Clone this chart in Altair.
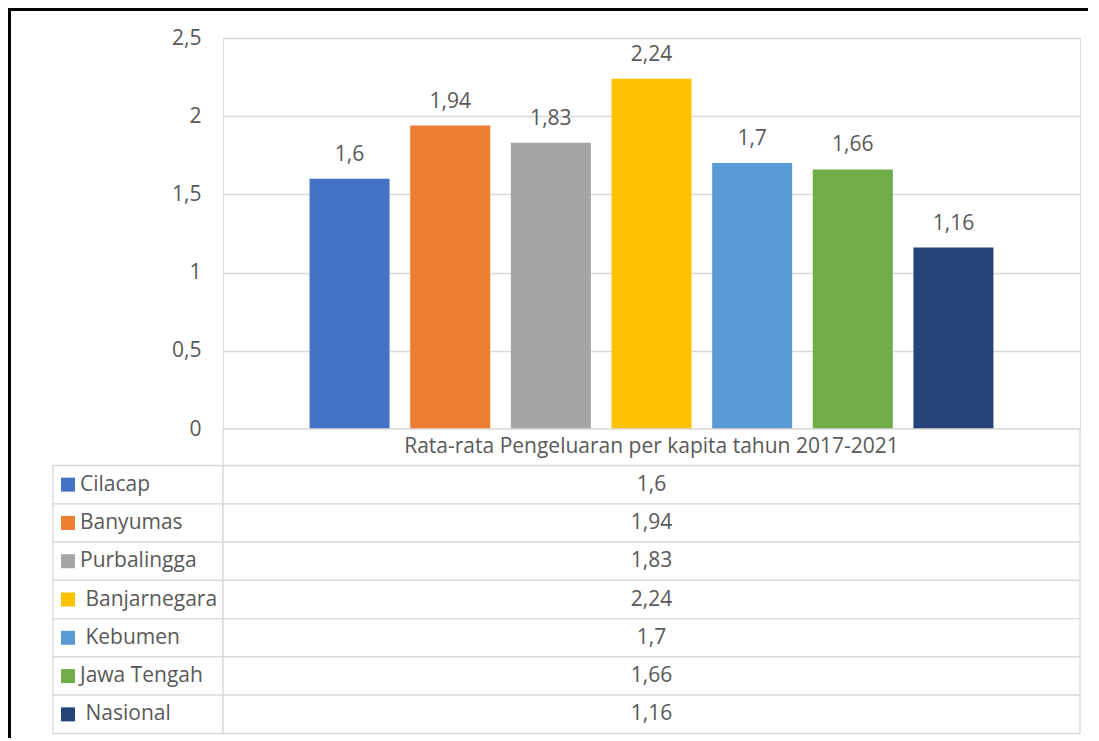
import altair as alt
import pandas as pd

# ---- data ----
names = ["Cilacap", "Banyumas", "Purbalingga", "Banjarnegara", "Kebumen", "Jawa Tengah", "Nasional"]
row_labels = ["Cilacap", "Banyumas", "Purbalingga", "\u200b\u00a0Banjarnegara", "\u200b\u00a0Kebumen", "Jawa Tengah", "\u200b\u00a0Nasional"]
values = [1.6, 1.94, 1.83, 2.24, 1.7, 1.66, 1.16]
colors = ["#4472C4", "#ED7D31", "#A5A5A5", "#FFC000", "#5B9BD5", "#70AD47", "#264478"]
series_title = "Rata-rata Pengeluaran per kapita tahun 2017-2021"
y_ticks = [0, 0.5, 1, 1.5, 2, 2.5]

df = pd.DataFrame({
    "name": names,
    "row_label": row_labels,
    "value": values,
    "value_text": [f"{v:g}".replace(".", ",") for v in values],
})
df_header = pd.DataFrame({"series": [series_title]})

# ---- layout / style ----
PLOT_W, PLOT_H = 857, 391
HEADER_BOTTOM = 427.5
TABLE_BOTTOM = 695.5
LEFT_COL = -170
FONT = "Open Sans"
FS = 21
TXT = "#595959"
GRID = "#d9d9d9"

color = alt.Color("name:N", scale=alt.Scale(domain=names, range=colors), legend=None)
x_bar = alt.X("name:N", sort=names, axis=None,
              scale=alt.Scale(paddingInner=0.205, paddingOuter=0.86))
y_val = alt.Y("value:Q", scale=alt.Scale(domain=[0, 2.5]),
              axis=alt.Axis(values=y_ticks,
                            labelExpr="replace(format(datum.value, '~g'), '.', ',')",
                            domain=False, ticks=False, grid=True, gridColor=GRID,
                            gridWidth=1.3, labelPadding=22, labelFontSize=FS,
                            labelColor=TXT, labelFont=FONT, title=None))

bars = alt.Chart(df).mark_bar().encode(x=x_bar, y=y_val, color=color)
bar_labels = alt.Chart(df).mark_text(dy=-18, baseline="alphabetic", fontSize=FS,
                                     font=FONT, color=TXT).encode(
    x=x_bar, y=y_val, text="value_text:N")
top = alt.layer(bars, bar_labels)

row_y = alt.Y("name:N", sort=names, axis=None,
              scale=alt.Scale(range=[HEADER_BOTTOM, TABLE_BOTTOM], paddingInner=0, paddingOuter=0))

cell_style = dict(fill="white", stroke=GRID, strokeWidth=1.3)
left_cells = alt.Chart(df).mark_rect(**cell_style).encode(
    x=alt.value(LEFT_COL), x2=alt.value(0), y=row_y)
right_cells = alt.Chart(df).mark_rect(**cell_style).encode(
    x=alt.value(0), x2=alt.value(PLOT_W), y=row_y)
squares = alt.Chart(df).mark_square(size=196, opacity=1).encode(
    x=alt.value(-155), y=row_y, color=color)
labels = alt.Chart(df).mark_text(align="left", baseline="middle", fontSize=FS,
                                 font=FONT, color=TXT).encode(
    x=alt.value(-143), y=row_y, text="row_label:N")
vals = alt.Chart(df).mark_text(align="center", baseline="middle", fontSize=FS,
                               font=FONT, color=TXT).encode(
    x=alt.value(PLOT_W / 2), y=row_y, text="value_text:N")
table = alt.layer(left_cells, right_cells, squares, labels, vals)

header_cell = alt.Chart(df_header).mark_rect(**cell_style).encode(
    x=alt.value(0), x2=alt.value(PLOT_W), y=alt.value(PLOT_H), y2=alt.value(HEADER_BOTTOM))
header_text = alt.Chart(df_header).mark_text(align="center", baseline="middle", fontSize=FS,
                                             font=FONT, color=TXT).encode(
    x=alt.value(PLOT_W / 2), y=alt.value((PLOT_H + HEADER_BOTTOM) / 2), text="series:N")

frame_left = alt.Chart(df_header).mark_rule(color="black", strokeWidth=3).encode(
    x=alt.value(-213.5), y=alt.value(-30), y2=alt.value(PLOT_H + 320))
frame_top = alt.Chart(df_header).mark_rule(color="black", strokeWidth=3).encode(
    x=alt.value(-215), x2=alt.value(PLOT_W + 20), y=alt.value(-28.5))

chart = alt.layer(top, table, header_cell, header_text, frame_left, frame_top).resolve_scale(
    y="independent"
).properties(
    width=PLOT_W, height=PLOT_H,
    autosize=alt.AutoSizeParams(type="none"),
    padding={"left": 215, "top": 30, "right": 8, "bottom": 309},
).configure_view(strokeWidth=0, stroke="transparent").configure(font=FONT)

chart.save("out.html", embed_options={"renderer": "svg", "actions": False})
